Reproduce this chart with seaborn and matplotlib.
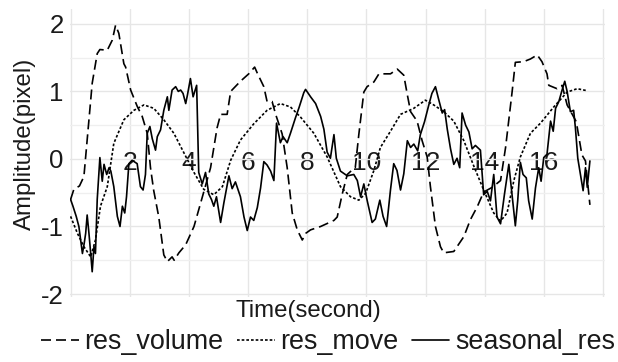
import matplotlib
matplotlib.use("Agg")
import matplotlib.pyplot as plt
import seaborn as sns
import pandas as pd
from matplotlib.ticker import MultipleLocator

# ---------------- data ----------------
vol_x = [0, 0.11, 0.3, 0.45, 0.58, 0.73, 0.9, 0.99, 1.24, 1.41, 1.52, 1.63, 1.8, 1.86, 2.03,
         2.25, 2.42, 2.59, 2.7, 2.81, 2.98, 3.15, 3.27, 3.43, 3.5, 3.66, 3.89, 4.17, 4.39, 4.73,
         4.95, 5.07, 5.29, 5.41, 5.74, 6.02, 6.22, 6.31, 6.53, 6.64, 6.81, 6.93, 7.15, 7.32, 7.49,
         7.66, 7.83, 7.95, 8.11, 8.45, 8.9, 9.01, 9.18, 9.35, 9.55, 9.62, 9.74, 9.91, 10.02, 10.25,
         10.42, 10.81, 11.04, 11.26, 11.38, 11.49, 11.71, 11.88, 12.05, 12.16, 12.33, 12.5, 12.61,
         12.95, 13.29, 13.51, 13.74, 13.96, 14.25, 14.53, 14.7, 14.92, 15.03, 15.31, 15.54, 15.77,
         15.93, 16.1, 16.16, 16.44, 16.61, 16.78, 17.09, 17.28, 17.4, 17.55]
vol_y = [-0.6, -0.45, -0.4, -0.26, 0.38, 1.12, 1.56, 1.62, 1.61, 1.76, 1.98, 1.86, 1.41, 1.36, 1.02,
         0.78, 0.63, 0.38, -0.13, -0.47, -0.86, -1.42, -1.52, -1.45, -1.5, -1.39, -1.27, -1.0, -0.66, -0.13,
         0.46, 0.66, 0.66, 1.0, 1.15, 1.26, 1.36, 1.27, 1.07, 0.85, 0.85, 0.66, 0.37, -0.13, -0.8,
         -1.05, -1.2, -1.1, -1.05, -1.0, -0.91, -0.86, -0.52, -0.23, -0.15, -0.13, 0.36, 0.99, 1.07, 1.14,
         1.26, 1.26, 1.33, 1.24, 0.95, 0.7, 0.56, 0.27, 0.03, -0.41, -1.0, -1.3, -1.39,
         -1.37, -1.15, -0.9, -0.71, -0.49, -0.42, -0.32, 0.17, 0.99, 1.43, 1.44, 1.48, 1.54,
         1.44, 1.26, 1.09, 1.04, 1.09, 0.8, 0.55, 0.06, -0.03, -0.68]

move_x = [0, 0.23, 0.45, 0.68, 0.84, 1.01, 1.24, 1.46, 1.8, 2.14, 2.48, 2.81, 3.15, 3.49, 3.83,
          4.17, 4.5, 4.84, 5.13, 5.41, 5.74, 6.19, 6.64, 7.09, 7.43, 7.77, 8.22, 8.67, 9.12, 9.46,
          9.74, 9.97, 10.25, 10.47, 10.81, 11.15, 11.6, 11.99, 12.27, 12.61, 12.95, 13.29, 13.63,
          13.96, 14.3, 14.53, 14.75, 14.98, 15.2, 15.54, 15.88, 16.33, 16.78, 17.12, 17.46]
move_y = [-0.85, -1.1, -1.3, -1.45, -1.2, -0.7, -0.41, 0.23, 0.58, 0.72, 0.8, 0.75, 0.58, 0.38, 0.09,
          -0.2, -0.45, -0.53, -0.41, -0.02, 0.28, 0.52, 0.72, 0.82, 0.77, 0.62, 0.38, 0.03, -0.41, -0.56,
          -0.61, -0.51, -0.17, 0.17, 0.41, 0.66, 0.75, 0.87, 0.8, 0.7, 0.56, 0.27, -0.11,
          -0.46, -0.8, -0.92, -0.8, -0.32, 0.03, 0.38, 0.53, 0.77, 0.99, 1.04, 1.01]

seas_x = [0, 0.08, 0.19, 0.28, 0.34, 0.4, 0.46, 0.51, 0.56, 0.62, 0.68, 0.73, 0.79, 0.84, 0.9,
          0.99, 1.07, 1.13, 1.22, 1.3, 1.36, 1.46, 1.58, 1.67, 1.75, 1.83, 1.89, 1.97, 2.08, 2.25,
          2.36, 2.45, 2.53, 2.59, 2.68, 2.76, 2.87, 2.93, 3.04, 3.15, 3.27, 3.32, 3.43, 3.55, 3.64,
          3.72, 3.8, 3.89, 3.95, 4.05, 4.14, 4.26, 4.33, 4.45, 4.56, 4.67, 4.76, 4.84, 4.93, 5.07,
          5.18, 5.35, 5.46, 5.57, 5.74, 5.86, 5.97, 6.08, 6.19, 6.31, 6.42, 6.53, 6.64, 6.76, 6.87,
          6.96, 7.09, 7.18, 7.32, 7.43, 7.6, 7.72, 7.88, 7.94, 8.11, 8.28, 8.45, 8.56, 8.67, 8.78,
          8.9, 8.98, 9.12, 9.35, 9.57, 9.69, 9.8, 9.91, 10.02, 10.19, 10.3, 10.45, 10.56, 10.68,
          10.81, 10.92, 11.03, 11.15, 11.26, 11.38, 11.49, 11.6, 11.73, 11.82, 11.96, 12.1, 12.21,
          12.33, 12.44, 12.56, 12.64, 12.73, 12.84, 12.95, 13.06, 13.15, 13.23, 13.35, 13.46, 13.57,
          13.68, 13.85, 13.96, 14.08, 14.19, 14.3, 14.41, 14.53, 14.66, 14.81, 14.92, 15.03, 15.11,
          15.2, 15.29, 15.4, 15.48, 15.6, 15.71, 15.82, 15.9, 15.99, 16.1, 16.22, 16.31, 16.39,
          16.5, 16.61, 16.7, 16.78, 16.89, 17.0, 17.06, 17.14, 17.23, 17.32, 17.4, 17.46, 17.55]
seas_y = [-0.6, -0.7, -0.85, -1.0, -1.2, -1.4, -1.25, -1.1, -0.83, -1.1, -1.4, -1.67, -1.3, -1.4, -0.6,
          0.02, -0.33, -0.08, -0.23, -0.13, -0.18, -0.41, -0.85, -1.0, -0.7, -0.8, -0.56, -0.07, -0.02, -0.07,
          -0.41, -0.46, -0.23, 0.38, 0.48, 0.3, 0.13, 0.33, 0.43, 0.72, 0.92, 0.72, 1.02, 1.07, 1.0,
          1.02, 0.97, 0.82, 0.95, 1.19, 0.92, 1.09, -0.2, -0.37, -0.2, -0.52, -0.6, -0.7, -0.56, -0.94,
          -0.65, -0.25, -0.44, -0.34, -0.56, -0.86, -1.06, -0.86, -0.91, -0.72, -0.43, -0.04, -0.09, -0.18, -0.32,
          0.53, 0.24, 0.33, 0.24, 0.38, 0.61, 0.76, 0.98, 1.03, 0.92, 0.82, 0.63, 0.44, 0.1, 0.01,
          0.36, 0.01, -0.18, -0.25, -0.23, -0.32, -0.56, -0.37, -0.61, -0.94, -0.89, -0.61, -0.85, -1.0,
          -0.46, -0.07, -0.17, -0.46, -0.22, 0.27, 0.17, 0.22, 0.12, 0.36, 0.55, 0.79, 0.97,
          1.07, 0.88, 0.68, 0.73, 0.44, 0.15, -0.08, 0.01, -0.13, 0.68, 0.5, 0.4, 0.15,
          0.2, 0.13, -0.53, -0.48, -0.62, -0.23, -0.86, -0.96, -0.53, -0.08, -0.53, -0.99, -0.62,
          -0.05, -0.23, -0.28, -0.62, -0.89, -0.43, -0.13, -0.33, 0.02, 0.07, 0.56, 0.41, 0.75,
          0.85, 1.02, 1.15, 1.0, 0.7, 0.72, 0.46, 0.01, -0.23, -0.47, -0.13, -0.42, -0.03]

series_names = ["res_volume", "res_move", "seasonal_res"]
x_tick_values = [0, 2, 4, 6, 8, 10, 12, 14, 16, 18]
x_tick_labels = ["", "2", "4", "6", "8", "10", "12", "14", "16", ""]
y_tick_values = [-2, -1, 0, 1, 2]
y_tick_labels = ["-2", "-1", "0", "1", "2"]
x_title = "Time(second)"
y_title = "Amplitude(pixel)"

# ---------------- style ----------------
sns.set_theme(style="white")
plt.rcParams["font.family"] = ["Liberation Sans", "DejaVu Sans"]
text_color = "#1a1a1a"

fig = plt.figure(figsize=(6.18, 3.62), dpi=100)
ax = fig.add_axes([70 / 618, 1 - 297 / 362, 535 / 618, 288 / 362])

styles = [(0, (6, 3)), (0, (1.6, 1.2)), "-"]
for name, xs, ys, ls in zip(series_names, [vol_x, move_x, seas_x], [vol_y, move_y, seas_y], styles):
    df = pd.DataFrame({"t": xs, "amp": ys})
    sns.lineplot(data=df, x="t", y="amp", ax=ax, color="black", lw=1.2,
                 linestyle=ls, label=name, zorder=3)

ax.set_xlim(-0.02, 18.06)
ax.set_ylim(-2.044, 2.22)

ax.set_xticks(x_tick_values, labels=x_tick_labels)
ax.set_yticks(y_tick_values, labels=y_tick_labels)
ax.yaxis.set_minor_locator(MultipleLocator(0.5))

ax.grid(True, which="major", axis="both", color="#e6e6e6", lw=1.0, zorder=0)
ax.grid(True, which="minor", axis="y", color="#efefef", lw=0.9, zorder=0)
ax.set_axisbelow(True)

for s in ax.spines.values():
    s.set_visible(False)
ax.spines["bottom"].set_position(("data", 0))

ax.tick_params(axis="x", which="both", length=0, pad=-6.0, labelsize=19, labelcolor=text_color)
ax.tick_params(axis="y", which="both", length=0, pad=4.5, labelsize=18.5, labelcolor=text_color)
for lab in ax.get_xticklabels():
    lab.set_zorder(5)

ax.set_xlabel(x_title, fontsize=17.3, color=text_color)
ax.set_ylabel(y_title, fontsize=17.3, color=text_color)
ax.xaxis.set_label_coords((308.5 - 70) / 535, -0.012)
ax.yaxis.set_label_coords(-0.063, 0.531)

handles, labels = ax.get_legend_handles_labels()
ax.get_legend().remove()
fig.legend(handles, labels, loc="center", bbox_to_anchor=(328 / 618, 1 - 342 / 362),
           ncol=3, frameon=False, fontsize=19.4, handlelength=1.4, handletextpad=0.2,
           columnspacing=0.5, labelcolor=text_color, borderaxespad=0, borderpad=0)

fig.savefig("out.png", dpi=100)
